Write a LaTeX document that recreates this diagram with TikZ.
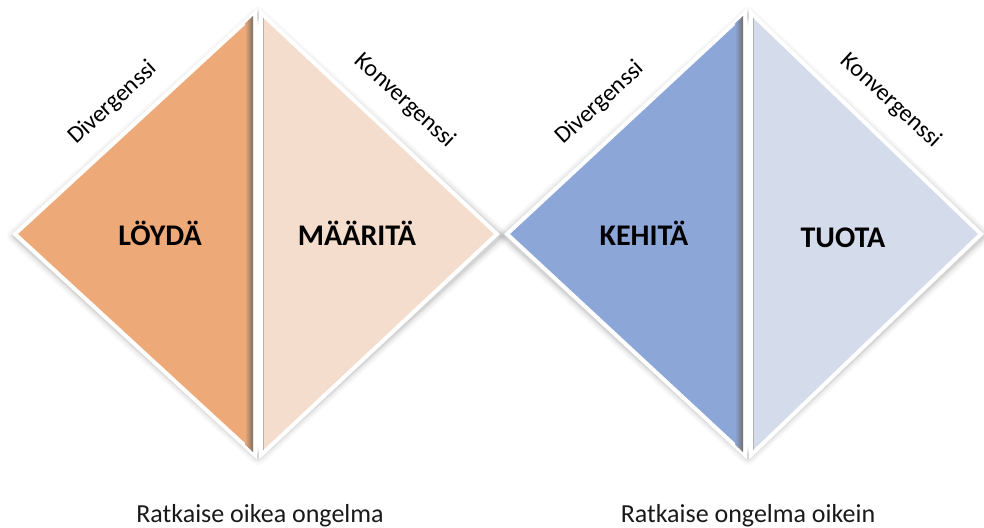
\documentclass[tikz,border=0pt]{standalone}
\usepackage{fontspec}
\setmainfont{Carlito}
\usepackage{tikz}

\definecolor{loydafill}{HTML}{EEA978}
\definecolor{maaritafill}{HTML}{F4DDCC}
\definecolor{kehitafill}{HTML}{8CA6D8}
\definecolor{tuotafill}{HTML}{D4DBEB}
\definecolor{seamdark}{HTML}{6E6660}

\tikzset{
    halfshape/.style={draw=white, line width=4pt, line join=miter},
    phaselabel/.style={font=\bfseries\fontsize{30}{34}\selectfont, text=black, anchor=base},
    edgelabel/.style={font=\fontsize{24}{28}\selectfont, text=black},
    goallabel/.style={font=\fontsize{26}{30}\selectfont, text=black!90, anchor=base}
}

\begin{document}
\begin{tikzpicture}[x=1pt,y=-1pt]
    \useasboundingbox (0,0) rectangle (984,527);

    % Soft shadows round the two diamonds
    \foreach \w/\o in {16/0.025, 12/0.035, 8/0.05, 5/0.07} {
        \draw[line width=\w pt, black, opacity=\o, line join=round]
            (15,236) -- (258,15) -- (500,236) -- (258,457) -- cycle;
        \draw[line width=\w pt, black, opacity=\o, line join=round]
            (505,236) -- (748,15) -- (983,236) -- (748,457) -- cycle;
    }

    % Left diamond: find and define
    \draw[halfshape, fill=loydafill] (255,13) -- (15,234) -- (255,455) -- cycle;
    \begin{scope}
        \clip (253,16) -- (19,234) -- (253,452) -- cycle;
        \shade[left color=loydafill, right color=seamdark] (245,0) rectangle (254,470);
    \end{scope}
    \draw[halfshape, fill=maaritafill] (261,13) -- (497,234) -- (261,455) -- cycle;
    \draw[black!30, line width=1.5pt] (263.5,18) -- (263.5,450);

    % Right diamond: develop and deliver
    \draw[halfshape, fill=kehitafill] (745,13) -- (507,234) -- (745,455) -- cycle;
    \begin{scope}
        \clip (743,16) -- (511,234) -- (743,452) -- cycle;
        \shade[left color=kehitafill, right color=seamdark] (735,0) rectangle (744,470);
    \end{scope}
    \draw[halfshape, fill=tuotafill] (751,13) -- (981,234) -- (751,455) -- cycle;
    \draw[black!30, line width=1.5pt] (753.5,18) -- (753.5,450);

    % Phase names
    \node[phaselabel] (loyda) at (160,245) {LÖYDÄ};
    \node[phaselabel] (maarita) at (357,245) {MÄÄRITÄ};
    \node[phaselabel] (kehita) at (644,245) {KEHITÄ};
    \node[phaselabel] (tuota) at (843,247) {TUOTA};

    % Edge labels
    \node[edgelabel, rotate=42.5] (div1) at (113,103) {Divergenssi};
    \node[edgelabel, rotate=-42.5] (kon1) at (405,101) {Konvergenssi};
    \node[edgelabel, rotate=42.5] (div2) at (600,103) {Divergenssi};
    \node[edgelabel, rotate=-42.5] (kon2) at (891,101) {Konvergenssi};

    % Goals below
    \node[goallabel] (goal1) at (260,522) {Ratkaise oikea ongelma};
    \node[goallabel] (goal2) at (748,522) {Ratkaise ongelma oikein};
\end{tikzpicture}
\end{document}
